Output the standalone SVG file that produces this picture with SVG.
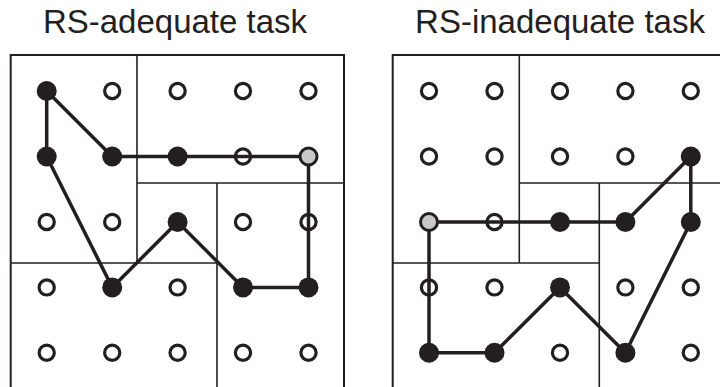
<svg xmlns="http://www.w3.org/2000/svg" width="720" height="387" viewBox="0 0 720 387">
<style>
.bg{fill:#ffffff}
.title{font-family:"Liberation Sans",Arial,sans-serif;font-size:33px;fill:#231f20;text-anchor:middle}
.box{fill:none;stroke:#231f20;stroke-width:1.6}
.outer{fill:none;stroke:#231f20;stroke-width:2}
.path{fill:none;stroke:#231f20;stroke-width:3.5;stroke-linejoin:round;stroke-linecap:round}
.open{fill:none;stroke:#231f20;stroke-width:3.2}
.full{fill:#231f20}
.grey{fill:#c8c8c8;stroke:#231f20;stroke-width:3}
</style>
<rect class="bg" x="0" y="0" width="720" height="387"/>
<text class="title" x="175" y="33">RS-adequate task</text>
<text class="title" x="560" y="33">RS-inadequate task</text>

<g id="boxes-left">
<path class="outer" d="M10.7,390 V55 H344 V390"/>
<path class="box" d="M137,55 V263 M137,183 H344 M217,183 V390 M10.7,263 H217"/>
</g>
<g id="boxes-right">
<path class="outer" d="M392.7,390 V55 H722"/>
<path class="box" d="M519.3,55 V263 M519.3,183 H722 M599.3,183 V390 M392.7,263 H599.3"/>
</g>

<g id="connectors">
<polyline class="path" points="46.7,91 46.7,156.5 112.2,287.4 177.6,222 243,287.4 308.5,287.4 308.5,156.5 243,156.5 177.6,156.5 112.2,156.5 46.7,91"/>
<polyline class="path" points="429,222 494.5,222 560,222 625.4,222 690.8,156.5 690.8,222 625.4,352.8 560,287.4 494.5,352.8 429,352.8 429,222"/>
</g>

<g id="nodes-left">
<g id="L-r0"><circle class="full" cx="46.7" cy="91" r="10"/><circle class="open" cx="112.2" cy="91" r="7.6"/><circle class="open" cx="177.6" cy="91" r="7.6"/><circle class="open" cx="243" cy="91" r="7.6"/><circle class="open" cx="308.5" cy="91" r="7.6"/></g>
<g id="L-r1"><circle class="full" cx="46.7" cy="156.5" r="10"/><circle class="full" cx="112.2" cy="156.5" r="10"/><circle class="full" cx="177.6" cy="156.5" r="10"/><circle class="open" cx="243" cy="156.5" r="7.6"/><circle class="grey" cx="308.5" cy="156.5" r="8.5"/></g>
<g id="L-r2"><circle class="open" cx="46.7" cy="222" r="7.6"/><circle class="open" cx="112.2" cy="222" r="7.6"/><circle class="full" cx="177.6" cy="222" r="10"/><circle class="open" cx="243" cy="222" r="7.6"/><circle class="open" cx="308.5" cy="222" r="7.6"/></g>
<g id="L-r3"><circle class="open" cx="46.7" cy="287.4" r="7.6"/><circle class="full" cx="112.2" cy="287.4" r="10"/><circle class="open" cx="177.6" cy="287.4" r="7.6"/><circle class="full" cx="243" cy="287.4" r="10"/><circle class="full" cx="308.5" cy="287.4" r="10"/></g>
<g id="L-r4"><circle class="open" cx="46.7" cy="352.8" r="7.6"/><circle class="open" cx="112.2" cy="352.8" r="7.6"/><circle class="open" cx="177.6" cy="352.8" r="7.6"/><circle class="open" cx="243" cy="352.8" r="7.6"/><circle class="open" cx="308.5" cy="352.8" r="7.6"/></g>
</g>

<g id="nodes-right">
<g id="R-r0"><circle class="open" cx="429" cy="91" r="7.6"/><circle class="open" cx="494.5" cy="91" r="7.6"/><circle class="open" cx="560" cy="91" r="7.6"/><circle class="open" cx="625.4" cy="91" r="7.6"/><circle class="open" cx="690.8" cy="91" r="7.6"/></g>
<g id="R-r1"><circle class="open" cx="429" cy="156.5" r="7.6"/><circle class="open" cx="494.5" cy="156.5" r="7.6"/><circle class="open" cx="560" cy="156.5" r="7.6"/><circle class="open" cx="625.4" cy="156.5" r="7.6"/><circle class="full" cx="690.8" cy="156.5" r="10"/></g>
<g id="R-r2"><circle class="grey" cx="429" cy="222" r="8.5"/><circle class="open" cx="494.5" cy="222" r="7.6"/><circle class="full" cx="560" cy="222" r="10"/><circle class="full" cx="625.4" cy="222" r="10"/><circle class="full" cx="690.8" cy="222" r="10"/></g>
<g id="R-r3"><circle class="open" cx="429" cy="287.4" r="7.6"/><circle class="open" cx="494.5" cy="287.4" r="7.6"/><circle class="full" cx="560" cy="287.4" r="10"/><circle class="open" cx="625.4" cy="287.4" r="7.6"/><circle class="open" cx="690.8" cy="287.4" r="7.6"/></g>
<g id="R-r4"><circle class="full" cx="429" cy="352.8" r="10"/><circle class="full" cx="494.5" cy="352.8" r="10"/><circle class="open" cx="560" cy="352.8" r="7.6"/><circle class="full" cx="625.4" cy="352.8" r="10"/><circle class="open" cx="690.8" cy="352.8" r="7.6"/></g>
</g>
</svg>
